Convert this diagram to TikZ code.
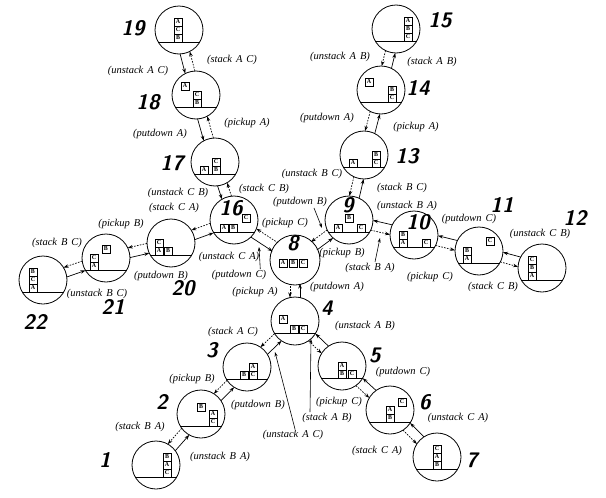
\documentclass[tikz,border=0pt]{standalone}
\usepackage{fontspec}
\setmainfont{Liberation Serif}
\usetikzlibrary{arrows.meta,calc}

\newcommand\actfont{\fontsize{10.5}{11.5}\selectfont\itshape\spaceskip=4pt plus 1pt\relax}

\tikzset{
  world/.style={circle,draw,line width=0.8pt,minimum size=48pt,inner sep=0pt},
  blk/.style={draw,line width=0.6pt,minimum size=8pt,inner sep=0pt,
    font=\fontsize{6}{6}\selectfont\bfseries},
  tabletop/.style={line width=0.8pt},
  plan/.style={line width=0.7pt,-{Stealth[length=5pt,width=3.5pt]},
    shorten <=23.5pt,shorten >=23.5pt},
  undo/.style={plan,dash pattern=on 1.6pt off 1.3pt},
  lead/.style={line width=0.6pt,-{Stealth[length=4.5pt,width=3pt]}},
  act/.style={inner sep=1pt,font=\actfont},
  num/.style={font=\fontsize{21}{21}\selectfont\sffamily\bfseries\itshape}
}

% solid arrow #1 -> #2 on its right, dotted arrow #2 -> #1 beside it
\newcommand\pair[2]{%
  \draw[plan] ($(#1)!5pt!-90:(#2)$) -- ($(#2)!5pt!90:(#1)$);
  \draw[undo] ($(#2)!5pt!-90:(#1)$) -- ($(#1)!5pt!90:(#2)$);
}

\begin{document}
\begin{tikzpicture}[x=1pt,y=-1pt]
\useasboundingbox (0,0) rectangle (606,498);

% the states
\node[world] (s1) at (156,465) {};
\node[world] (s2) at (201,414) {};
\node[world] (s3) at (247,367) {};
\node[world] (s4) at (295,321) {};
\node[world] (s5) at (342,366) {};
\node[world] (s6) at (390,410) {};
\node[world] (s7) at (437,457) {};
\node[world,minimum size=50pt] (s8) at (295,260) {};
\node[world] (s9) at (349,220) {};
\node[world] (s10) at (414,235) {};
\node[world] (s11) at (479,251) {};
\node[world] (s12) at (542,268) {};
\node[world] (s13) at (364,155) {};
\node[world] (s14) at (381,90) {};
\node[world] (s15) at (396,29) {};
\node[world] (s16) at (234,220) {};
\node[world] (s17) at (215,162) {};
\node[world] (s18) at (196,95) {};
\node[world] (s19) at (179,30) {};
\node[world] (s20) at (171,243) {};
\node[world] (s21) at (106,258) {};
\node[world] (s22) at (43,280) {};

% blocks on the table
\begin{scope}[shift={(s1.center)}]
\draw[tabletop] (-20.8,12) -- (20.8,12);
\node[blk] at (11,-8) {B}; \node[blk] at (11,0) {A}; \node[blk] at (11,8) {C};
\end{scope}
\begin{scope}[shift={(s2.center)}]
\draw[tabletop] (-20.8,12) -- (20.8,12);
\node[blk] at (0,-7) {B}; \node[blk] at (12,0) {A}; \node[blk] at (12,8) {C};
\end{scope}
\begin{scope}[shift={(s3.center)}]
\draw[tabletop] (-20.8,12) -- (20.8,12);
\node[blk] at (-3,8) {B}; \node[blk] at (6,0) {A}; \node[blk] at (6,8) {C};
\end{scope}
\begin{scope}[shift={(s4.center)}]
\draw[tabletop] (-20.8,12) -- (20.8,12);
\node[blk] at (-12,-2) {A}; \node[blk] at (-1,8) {B}; \node[blk] at (8,8) {C};
\end{scope}
\begin{scope}[shift={(s5.center)}]
\draw[tabletop] (-20.8,12) -- (20.8,12);
\node[blk] at (0,0) {A}; \node[blk] at (0,8) {B}; \node[blk] at (10,8) {C};
\end{scope}
\begin{scope}[shift={(s6.center)}]
\draw[tabletop] (-20.8,12) -- (20.8,12);
\node[blk] at (12,-8) {C}; \node[blk] at (0,0) {A}; \node[blk] at (0,8) {B};
\end{scope}
\begin{scope}[shift={(s7.center)}]
\draw[tabletop] (-20.8,12) -- (20.8,12);
\node[blk] at (0,-8) {C}; \node[blk] at (0,0) {A}; \node[blk] at (0,8) {B};
\end{scope}
\begin{scope}[shift={(s8.center)}]
\node[blk] at (-12,3) {A}; \node[blk] at (-2,3) {B}; \node[blk] at (8,3) {C};
\end{scope}
\begin{scope}[shift={(s9.center)}]
\draw[tabletop] (-20.8,12) -- (20.8,12);
\node[blk] at (0,-2) {B}; \node[blk] at (-11,8) {A}; \node[blk] at (12,8) {C};
\end{scope}
\begin{scope}[shift={(s10.center)}]
\draw[tabletop] (-20.8,12) -- (20.8,12);
\node[blk] at (-11,0) {B}; \node[blk] at (-11,8) {A}; \node[blk] at (12,8) {C};
\end{scope}
\begin{scope}[shift={(s11.center)}]
\draw[tabletop] (-20.8,12) -- (20.8,12);
\node[blk] at (11,-10) {C}; \node[blk] at (-12,0) {B}; \node[blk] at (-12,8) {A};
\end{scope}
\begin{scope}[shift={(s12.center)}]
\draw[tabletop] (-20.8,12) -- (20.8,12);
\node[blk] at (-10,-8) {C}; \node[blk] at (-10,0) {B}; \node[blk] at (-10,8) {A};
\end{scope}
\begin{scope}[shift={(s13.center)}]
\draw[tabletop] (-20.8,12) -- (20.8,12);
\node[blk] at (-11,8) {A}; \node[blk] at (12,0) {B}; \node[blk] at (12,8) {C};
\end{scope}
\begin{scope}[shift={(s14.center)}]
\draw[tabletop] (-20.8,12) -- (20.8,12);
\node[blk] at (-12,-8) {A}; \node[blk] at (11,0) {B}; \node[blk] at (11,8) {C};
\end{scope}
\begin{scope}[shift={(s15.center)}]
\draw[tabletop] (-20.8,12) -- (20.8,12);
\node[blk] at (12,-8) {A}; \node[blk] at (12,0) {B}; \node[blk] at (12,8) {C};
\end{scope}
\begin{scope}[shift={(s16.center)}]
\draw[tabletop] (-20.8,12) -- (20.8,12);
\node[blk] at (12,-2) {C}; \node[blk] at (-10,8) {A}; \node[blk] at (-1,8) {B};
\end{scope}
\begin{scope}[shift={(s17.center)}]
\draw[tabletop] (-20.8,12) -- (20.8,12);
\node[blk] at (-11,8) {A}; \node[blk] at (1,0) {C}; \node[blk] at (1,8) {B};
\end{scope}
\begin{scope}[shift={(s18.center)}]
\draw[tabletop] (-20.8,12) -- (20.8,12);
\node[blk] at (-11,-9) {A}; \node[blk] at (1,0) {C}; \node[blk] at (1,8) {B};
\end{scope}
\begin{scope}[shift={(s19.center)}]
\draw[tabletop] (-20.8,12) -- (20.8,12);
\node[blk] at (-1,-8) {A}; \node[blk] at (-1,0) {C}; \node[blk] at (-1,8) {B};
\end{scope}
\begin{scope}[shift={(s20.center)}]
\draw[tabletop] (-20.8,12) -- (20.8,12);
\node[blk] at (-12,0) {C}; \node[blk] at (-12,8) {A}; \node[blk] at (-3,8) {B};
\end{scope}
\begin{scope}[shift={(s21.center)}]
\draw[tabletop] (-20.8,12) -- (20.8,12);
\node[blk] at (0,-9) {B}; \node[blk] at (-12,0) {C}; \node[blk] at (-12,8) {A};
\end{scope}
\begin{scope}[shift={(s22.center)}]
\draw[tabletop] (-20.8,12) -- (20.8,12);
\node[blk] at (-10,-8) {B}; \node[blk] at (-10,0) {C}; \node[blk] at (-10,8) {A};
\end{scope}

% the moves
\pair{s19}{s18} \pair{s18}{s17} \pair{s17}{s16}
\pair{s22}{s21} \pair{s21}{s20} \pair{s20}{s16}
\pair{s16}{s8} \pair{s8}{s9}
\pair{s12}{s11} \pair{s11}{s10} \pair{s10}{s9}
\pair{s9}{s13} \pair{s13}{s14} \pair{s14}{s15}
\pair{s7}{s6} \pair{s6}{s5} \pair{s5}{s4}
\pair{s1}{s2} \pair{s2}{s3} \pair{s3}{s4}
\pair{s4}{s8}

% numbers
\node[num] at (105,460) {1};
\node[num] at (162,402) {2};
\node[num] at (212,350) {3};
\node[num] at (327,308) {4};
\node[num] at (375,355) {5};
\node[num] at (425,402) {6};
\node[num] at (472,460) {7};
\node[num] at (293,243) {8};
\node[num] at (348,205) {9};
\node[num] at (418,222) {10};
\node[num] at (502,205) {11};
\node[num] at (575,218) {12};
\node[num] at (407,156) {13};
\node[num] at (418,88) {14};
\node[num] at (440,20) {15};
\node[num] at (231,208) {16};
\node[num] at (172,163) {17};
\node[num] at (148,102) {18};
\node[num] at (133,28) {19};
\node[num] at (183,288) {20};
\node[num] at (113,307) {21};
\node[num] at (35,322) {22};

% action labels
\node[act] at (138,71) {(unstack A C)};
\node[act] at (232,60) {(stack A C)};
\node[act] at (160,134) {(putdown A)};
\node[act] at (247,123) {(pickup A)};
\node[act] at (178,193) {(unstack C B)};
\node[act] at (174,208) {(stack C A)};
\node[act] at (264,189) {(stack C B)};
\node[act] at (121,224) {(pickup B)};
\node[act] at (57,243) {(stack B C)};
\node[act] at (97,294) {(unstack B C)};
\node[act] at (161,276) {(putdown B)};
\node[act] at (229,257) {(unstack C A)};
\node[act] (lpdC) at (239,275) {(putdown C)};
\node[act] at (285,223) {(pickup C)};
\node[act] (lpdB) at (300,202) {(putdown B)};
\node[act] at (312,174) {(unstack B C)};
\node[act] at (342,253) {(pickup B)};
\node[act] (lsBA) at (370,268) {(stack B A)};
\node[act] at (255,292) {(pickup A)};
\node[act] at (337,287) {(putdown A)};
\node[act] at (402,188) {(stack B C)};
\node[act] at (407,206) {(unstack B A)};
\node[act] at (340,57) {(unstack A B)};
\node[act] at (432,62) {(stack A B)};
\node[act] at (327,118) {(putdown A)};
\node[act] at (416,127) {(pickup A)};
\node[act] at (469,219) {(putdown C)};
\node[act] at (430,277) {(pickup C)};
\node[act] at (540,234) {(unstack C B)};
\node[act] at (493,287) {(stack C B)};
\node[act] at (365,326) {(unstack A B)};
\node[act] at (233,332) {(stack A C)};
\node[act] (lsAB) at (327,418) {(stack A B)};
\node[act] (luAC) at (293,435) {(unstack A C)};
\node[act] at (192,379) {(pickup B)};
\node[act] at (258,405) {(putdown B)};
\node[act] at (140,427) {(stack B A)};
\node[act] at (220,457) {(unstack B A)};
\node[act] at (339,402) {(pickup C)};
\node[act] at (403,372) {(putdown C)};
\node[act] at (458,418) {(unstack C A)};
\node[act] at (377,451) {(stack C A)};

% pointers from labels to their arrows
\coordinate (tpdC) at (259,247);
\coordinate (tpdB) at (322,228);
\coordinate (tsBA) at (380,238);
\coordinate (tsAB) at (311,339);
\coordinate (tuAC) at (275,352);
\draw[lead] ([xshift=-7pt]lpdC.north east) -- (tpdC);
\draw[lead] ([xshift=-14pt]lpdB.south east) -- (tpdB);
\draw[lead] ([xshift=5pt]lsBA.north) -- (tsBA);
\draw[lead] ([xshift=-17pt]lsAB.north) -- (tsAB);
\draw[lead] ([xshift=2pt]luAC.north) -- (tuAC);
\end{tikzpicture}
\end{document}
